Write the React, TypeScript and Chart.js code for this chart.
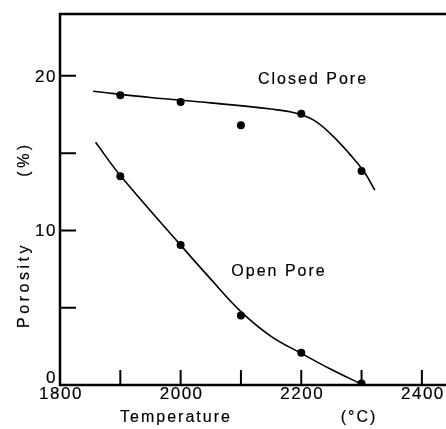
import React, { useEffect, useRef } from "react";
import { Chart, registerables } from "chart.js";

Chart.register(...registerables);

const closedTemps = [1900, 2000, 2100, 2200, 2300];
const closedPorosity = [18.75, 18.3, 16.8, 17.55, 13.85];
const openTemps = [1900, 2000, 2100, 2200, 2300];
const openPorosity = [13.5, 9.05, 4.5, 2.08, 0.1];

const closedCurveX = [1855, 1950, 2050, 2150, 2190, 2220, 2250, 2280, 2305, 2322];
const closedCurveY = [19.0, 18.6, 18.25, 17.85, 17.6, 17.15, 16.2, 14.95, 13.75, 12.6];
const openCurveX = [1859, 1900, 2000, 2050, 2100, 2150, 2200, 2250, 2300];
const openCurveY = [15.7, 13.55, 9.05, 6.85, 4.75, 3.15, 2.05, 1.0, 0.05];

const xTickValues = [1900, 2000, 2100, 2200, 2300, 2400];
const xLabelValues = [1800, 2000, 2200, 2400];
const yTickValues = [5, 10, 15, 20];
const yLabelValues = [0, 10, 20];

const FONT = '"Liberation Sans", Arial, sans-serif';

const pts = (xs: number[], ys: number[]) => xs.map((x, i) => ({ x, y: ys[i] }));

function text(ctx: CanvasRenderingContext2D, s: string, x: number, y: number) {
  ctx.fillText(s, x, y);
  ctx.strokeText(s, x, y);
}

const framePlugin = {
  id: "frame",
  afterDraw(chart: any) {
    const ctx = chart.ctx as CanvasRenderingContext2D;
    const { left, top, bottom } = chart.chartArea;
    const right = chart.width;
    const xs = chart.scales.x;
    const ys = chart.scales.y;
    ctx.save();
    ctx.strokeStyle = "#000";
    ctx.lineWidth = 2.5;
    ctx.beginPath();
    ctx.moveTo(right, top);
    ctx.lineTo(left, top);
    ctx.lineTo(left, bottom);
    ctx.lineTo(right, bottom);
    ctx.stroke();
    ctx.lineWidth = 2;
    ctx.beginPath();
    xTickValues.forEach((v) => {
      const px = xs.getPixelForValue(v);
      ctx.moveTo(px, bottom);
      ctx.lineTo(px, bottom - 15);
    });
    yTickValues.forEach((v) => {
      const py = ys.getPixelForValue(v);
      ctx.moveTo(left, py);
      ctx.lineTo(left + 16, py);
    });
    ctx.stroke();

    ctx.fillStyle = "#000";
    ctx.lineWidth = 0.2;
    ctx.font = `17px ${FONT}`;
    (ctx as any).letterSpacing = "1.5px";
    ctx.textBaseline = "middle";
    ctx.textAlign = "center";
    xLabelValues.forEach((v) => {
      text(ctx, String(v), xs.getPixelForValue(v) + 1, bottom + 9);
    });
    ctx.textAlign = "right";
    yLabelValues.forEach((v) => {
      const py = ys.getPixelForValue(v);
      text(ctx, String(v), left - 3, v === 0 ? py - 7 : py + 1);
    });

    ctx.font = `16px ${FONT}`;
    (ctx as any).letterSpacing = "2px";
    ctx.textAlign = "center";
    text(ctx, "Temperature", 176, bottom + 33);
    text(ctx, "(°C)", 359, bottom + 33);
    text(ctx, "Closed Pore", 313, 80);
    text(ctx, "Open Pore", 279, 272);

    (ctx as any).letterSpacing = "3.5px";
    ctx.save();
    ctx.translate(25, 285);
    ctx.rotate(-Math.PI / 2);
    text(ctx, "Porosity", 0, 0);
    ctx.restore();
    ctx.save();
    ctx.translate(25, 159);
    ctx.rotate(-Math.PI / 2);
    text(ctx, "(%)", 0, 0);
    ctx.restore();
    ctx.restore();
  },
};

export default function App() {
  const ref = useRef<HTMLCanvasElement | null>(null);
  useEffect(() => {
    if (!ref.current) return;
    const chart = new Chart(ref.current, {
      type: "line",
      data: {
        datasets: [
          {
            data: pts(closedCurveX, closedCurveY),
            borderColor: "#000",
            borderWidth: 1.6,
            pointRadius: 0,
            tension: 0.4,
            fill: false,
          },
          {
            data: pts(openCurveX, openCurveY),
            borderColor: "#000",
            borderWidth: 1.6,
            pointRadius: 0,
            tension: 0.4,
            fill: false,
          },
          {
            data: pts(closedTemps, closedPorosity),
            showLine: false,
            pointRadius: 4,
            pointBackgroundColor: "#000",
            pointBorderColor: "#000",
            pointBorderWidth: 0,
          },
          {
            data: pts(openTemps, openPorosity),
            showLine: false,
            pointRadius: 4,
            pointBackgroundColor: "#000",
            pointBorderColor: "#000",
            pointBorderWidth: 0,
          },
        ],
      },
      options: {
        animation: false,
        responsive: false,
        layout: { autoPadding: false, padding: { left: 60, top: 14, right: 0, bottom: 44 } },
        plugins: { legend: { display: false }, tooltip: { enabled: false } },
        scales: {
          x: { type: "linear", min: 1800, max: 2440, display: false },
          y: { type: "linear", min: 0, max: 24, display: false },
        },
      },
      plugins: [framePlugin],
    });
    return () => chart.destroy();
  }, []);
  return (
    <div style={{ position: "fixed", left: 0, top: 0, width: 446, height: 429, background: "#fff" }}>
      <canvas ref={ref} width={446} height={429} />
    </div>
  );
}
